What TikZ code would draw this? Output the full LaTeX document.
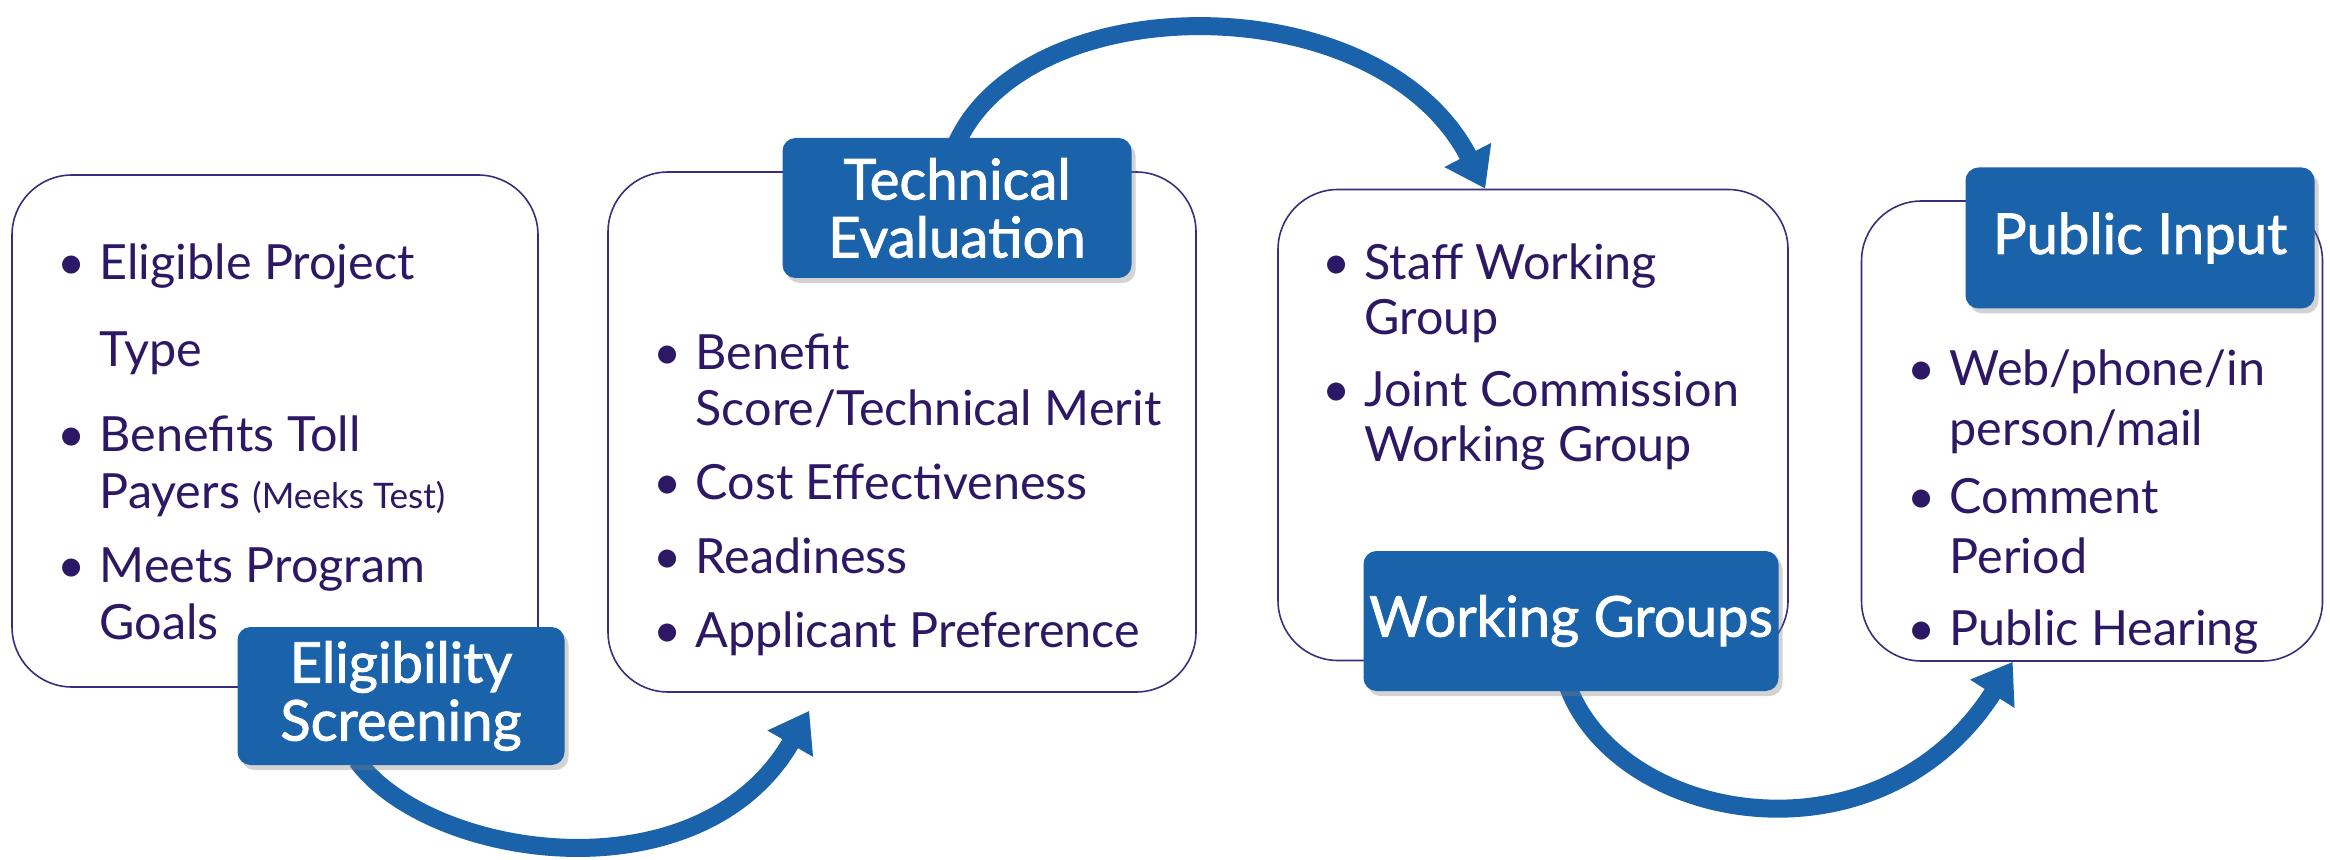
\documentclass[tikz,border=0pt]{standalone}
\usepackage{fontspec}
\setmainfont{Lato}
\newfontfamily\tagfont{Lato}[FakeBold=1.6]
\usetikzlibrary{calc,arrows.meta,shadows,backgrounds}

\definecolor{tagblue}{RGB}{26,98,170}
\definecolor{listpurple}{RGB}{44,24,100}
\definecolor{framepurple}{RGB}{62,42,122}

\newcommand{\bl}{\makebox[4.2mm][l]{\textbullet}}
\newcommand{\ind}{\hspace*{4.2mm}}

\begin{document}
\begin{tikzpicture}[x=0.1mm, y=-0.1mm]

\tikzset{
  panel/.style={draw=framepurple, line width=0.45pt, rounded corners=6mm, fill=white, inner sep=0pt},
  items/.style={text=listpurple, align=left, anchor=north west, inner sep=0pt, font=\fontsize{13.8}{16.3}\selectfont},
  tag/.style={fill=tagblue, text=white, rounded corners=1.3mm, align=center, inner sep=0pt, font=\tagfont\fontsize{16}{16.5}\selectfont, drop shadow={shadow xshift=0.4mm, shadow yshift=-0.5mm, opacity=0.35}},
  flow/.style={draw=tagblue, line width=1.8mm, -{Triangle[width=5mm,length=3.8mm]}},
}

\useasboundingbox (0,0) rectangle (2330,860);

% panels
\node[panel, minimum width=52.6mm, minimum height=51.2mm] (elig) at (275,431) {};
\node[panel, minimum width=58.8mm, minimum height=52mm] (tech) at (902,432) {};
\node[panel, minimum width=51mm, minimum height=47.1mm] (work) at (1533,425) {};
\node[panel, minimum width=46.1mm, minimum height=46mm] (pub) at (2092,431) {};

% lists
\node[items] (eligList) at (57,243) {\bl Eligible Project\\[8.4pt]
  \ind Type\\[8pt]
  \bl Benefits Toll\\
  \ind Payers {\fontsize{10}{12}\selectfont (Meeks Test)}\\[4.5pt]
  \bl Meets Program\\
  \ind Goals};
\node[items, font=\fontsize{13.8}{16}\selectfont] (techList) at (653,333) {\bl Benefit\\
  \ind Score/Technical Merit\\[5pt]
  \bl Cost Effectiveness\\[5pt]
  \bl Readiness\\[5pt]
  \bl Applicant Preference};
\node[items, font=\fontsize{13.8}{15.8}\selectfont] (workList) at (1322,243) {\bl Staff Working\\
  \ind Group\\[4.5pt]
  \bl Joint Commission\\
  \ind Working Group};
\node[items, font=\fontsize{13.8}{17}\selectfont] (pubList) at (1907,349) {\bl Web/phone/in\\
  \ind person/mail\\[2.5pt]
  \bl Comment\\
  \ind Period\\[3.5pt]
  \bl Public Hearing};

% tags
\node[tag, minimum width=32.7mm, minimum height=13.8mm] (eligTag) at (401,696) {Eligibility\\Screening};
\node[tag, minimum width=34.9mm, minimum height=14mm] (techTag) at (957,208) {Technical\\Evaluation};
\node[tag, minimum width=41.5mm, minimum height=14mm] (workTag) at (1571,621) {Working Groups};
\node[tag, minimum width=34.9mm, minimum height=14.1mm] (pubTag) at (2140,238) {Public Input};

% arrows, under the tags
\begin{scope}[on background layer]
\draw[flow] ($(eligTag.south)+(-44,-5)$) .. controls (430,860) and (700,900) .. ($(tech.south west)+(202,18)$);
\draw[flow] ($(techTag.north)+(0,5)$) .. controls (1030,-15) and (1380,-15) .. ($(work.north west)+(208,0)$);
\draw[flow] ($(workTag.south)+(-3,-5)$) .. controls (1620,825) and (1880,870) .. ($(pub.south west)+(152,0)$);
\end{scope}

\end{tikzpicture}
\end{document}
